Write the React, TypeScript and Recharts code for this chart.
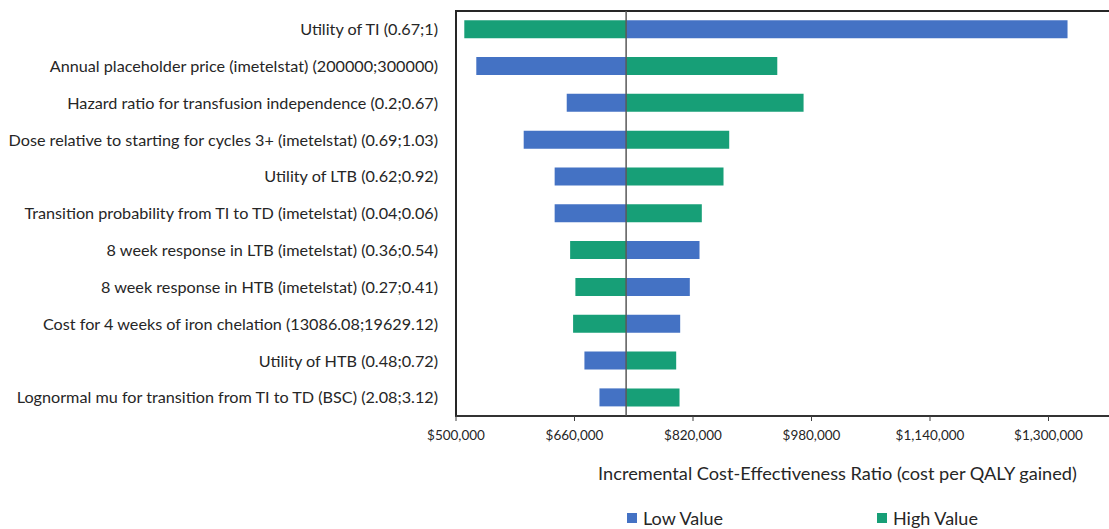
import { Bar, BarChart, Legend, ReferenceArea, ReferenceLine, XAxis, YAxis } from 'recharts'

const FONT = 'Lato, "Open Sans", sans-serif'
const BLUE = '#4472C4'
const GREEN = '#179F77'

const baseIcer = 729700

const parameters = [
  'Utility of TI (0.67;1)',
  'Annual placeholder price (imetelstat) (200000;300000)',
  'Hazard ratio for transfusion independence (0.2;0.67)',
  'Dose relative to starting for cycles 3+ (imetelstat) (0.69;1.03)',
  'Utility of LTB (0.62;0.92)',
  'Transition probability from TI to TD (imetelstat) (0.04;0.06)',
  '8 week response in LTB (imetelstat) (0.36;0.54)',
  '8 week response in HTB (imetelstat) (0.27;0.41)',
  'Cost for 4 weeks of iron chelation  (13086.08;19629.12)',
  'Utility of HTB (0.48;0.72)',
  'Lognormal mu for transition from TI to TD (BSC) (2.08;3.12)',
]

const lowValues = [1325700, 527400, 649500, 591400, 633200, 633200, 828800, 815700, 802700, 673400, 693700]
const highValues = [511200, 933800, 969300, 868900, 861200, 831900, 654100, 661200, 658100, 797300, 801800]

const xTicks = [500000, 660000, 820000, 980000, 1140000, 1300000]

const data = parameters.map((name, i) => ({ name, low: lowValues[i], high: highValues[i] }))

const span = (v: number) => [Math.min(baseIcer, v), Math.max(baseIcer, v)]

const money = (v: number) => '$' + v.toLocaleString('en-US')

function TornadoLegend() {
  const item = (color: string, label: string, left: number) => (
    <span style={{ position: 'absolute', left, top: 0, display: 'flex', alignItems: 'center' }}>
      <span style={{ width: 10, height: 10, background: color, marginRight: 6 }} />
      <span>{label}</span>
    </span>
  )
  return (
    <div style={{ position: 'relative', height: 26, fontFamily: FONT, fontSize: 18, color: '#262626', whiteSpace: 'nowrap' }}>
      {item(BLUE, 'Low Value', 627)}
      {item(GREEN, 'High Value', 877)}
    </div>
  )
}

export default function App() {
  return (
    <div style={{ width: 1109, height: 529, overflow: 'hidden' }}>
      <style>{'body{margin:0}'}</style>
      <BarChart
        width={1170}
        height={529}
        data={data}
        layout="vertical"
        barCategoryGap="25%"
        margin={{ top: 11, right: 3, bottom: 53, left: 0 }}
      >
        <XAxis
          type="number"
          domain={[500000, 1460000]}
          ticks={xTicks}
          tickFormatter={money}
          height={30}
          tickSize={5}
          tickMargin={9}
          axisLine={{ stroke: '#404040' }}
          tickLine={{ stroke: '#404040' }}
          tick={{ fontFamily: FONT, fontSize: 13.5, fill: '#262626' }}
          label={{
            value: 'Incremental Cost-Effectiveness Ratio (cost per QALY gained)',
            position: 'bottom',
            offset: 21,
            dx: 26,
            style: { fontFamily: FONT, fontSize: 18.2, fill: '#262626', whiteSpace: 'pre' },
          }}
        />
        <YAxis
          yAxisId="labels"
          type="category"
          dataKey="name"
          width={456}
          tickLine={false}
          axisLine={false}
          tickMargin={12}
          interval={0}
          tick={{ fontFamily: FONT, fontSize: 16.2, fill: '#262626', style: { whiteSpace: 'pre' } }}
        />
        <YAxis yAxisId="overlay" type="category" dataKey="name" hide />
        <Bar yAxisId="labels" dataKey={(d: any) => span(d.low)} name="Low Value" fill={BLUE} isAnimationActive={false} />
        <Bar yAxisId="overlay" dataKey={(d: any) => span(d.high)} name="High Value" fill={GREEN} isAnimationActive={false} />
        <ReferenceArea
          yAxisId="labels"
          x1={500000}
          x2={1460000}
          fill="none"
          stroke="#262626"
          strokeWidth={2}
          ifOverflow="visible"
        />
        <ReferenceLine yAxisId="labels" x={baseIcer} stroke="#595959" strokeWidth={1.5} />
        <Legend
          verticalAlign="bottom"
          height={30}
          content={<TornadoLegend />}
          wrapperStyle={{ top: 507, bottom: 'auto', left: 0, width: 1109 }}
        />
      </BarChart>
    </div>
  )
}
